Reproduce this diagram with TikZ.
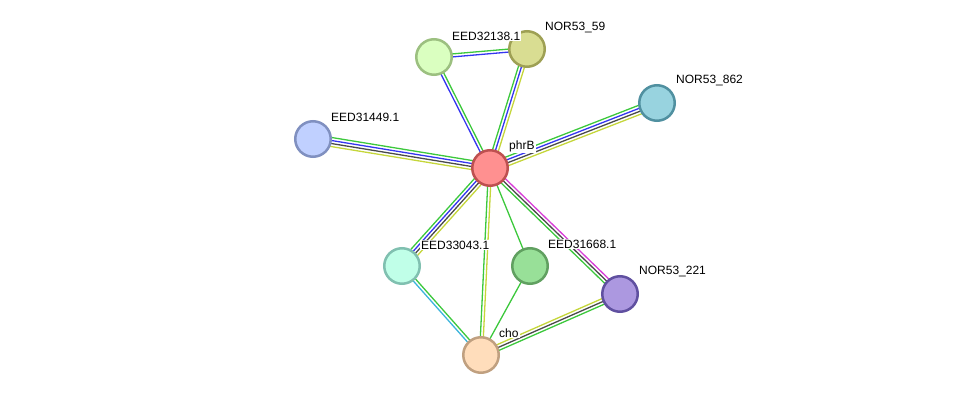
\documentclass[tikz,border=0pt]{standalone}
\usepackage{fontspec}
\setmainfont{Liberation Sans}
\usetikzlibrary{calc,backgrounds}

\definecolor{sgreen}{HTML}{3CC83C}
\definecolor{sblue}{HTML}{3535F0}
\definecolor{syellow}{HTML}{C5D63A}
\definecolor{sdark}{HTML}{4A4A4A}
\definecolor{smag}{HTML}{D83CD8}
\definecolor{scyan}{HTML}{3CB4DC}

% parallel evidence lines between two proteins
\newcommand\linkup[3]{%
  \foreach \c [count=\i] in {#3} {\xdef\nlines{\i}}
  \foreach \c [count=\i] in {#3} {
    \pgfmathsetmacro\off{((\nlines+1)/2-\i)*3}
    \draw[link,\c] ($(#1)!\off pt!90:(#2)$) -- ($(#2)!\off pt!-90:(#1)$);
  }
}

\begin{document}
\begin{tikzpicture}[x=1pt,y=-1pt,
			prot/.style={draw, circle, minimum size=35.5pt, line width=2.5pt, inner sep=0pt},
			lbl/.style={font=\fontsize{12}{14}\selectfont, anchor=west, inner sep=1pt, fill=white},
			link/.style={line width=1.3pt}]
			
			\useasboundingbox (0,0) rectangle (975,401);
			
			% Drawing the proteins
			\node[prot, fill={rgb,255:red,255;green,144;blue,144}, draw={rgb,255:red,190;green,80;blue,80}] (phrB) at (490,168) {};
			\node[prot, fill={rgb,255:red,218;green,255;blue,192}, draw={rgb,255:red,156;green,192;blue,128}] (eed32138) at (434,57) {};
			\node[prot, fill={rgb,255:red,217;green,221;blue,146}, draw={rgb,255:red,158;green,160;blue,84}] (nor59) at (527,49) {};
			\node[prot, fill={rgb,255:red,152;green,211;blue,223}, draw={rgb,255:red,80;green,144;blue,160}] (nor862) at (657,103) {};
			\node[prot, fill={rgb,255:red,192;green,208;blue,255}, draw={rgb,255:red,128;green,144;blue,192}] (eed31449) at (313,139) {};
			\node[prot, fill={rgb,255:red,192;green,255;blue,232}, draw={rgb,255:red,128;green,192;blue,176}] (eed33043) at (402,266) {};
			\node[prot, fill={rgb,255:red,152;green,224;blue,152}, draw={rgb,255:red,96;green,160;blue,96}] (eed31668) at (530,266) {};
			\node[prot, fill={rgb,255:red,172;green,152;blue,224}, draw={rgb,255:red,96;green,80;blue,160}] (nor221) at (620,294) {};
			\node[prot, fill={rgb,255:red,255;green,221;blue,187}, draw={rgb,255:red,192;green,160;blue,128}] (cho) at (481,355) {};
			
			% Labels
			\node[lbl] (phrB-l) at ($(phrB)+(18,-22)$) {phrB};
			\node[lbl] (eed32138-l) at ($(eed32138)+(17,-21)$) {EED32138.1};
			\node[lbl] (nor59-l) at ($(nor59)+(17,-21)$) {NOR53\_59};
			\node[lbl] (nor862-l) at ($(nor862)+(18,-22)$) {NOR53\_862};
			\node[lbl] (eed31449-l) at ($(eed31449)+(17,-22)$) {EED31449.1};
			\node[lbl] (eed33043-l) at ($(eed33043)+(18,-21)$) {EED33043.1};
			\node[lbl] (eed31668-l) at ($(eed31668)+(17,-22)$) {EED31668.1};
			\node[lbl] (nor221-l) at ($(nor221)+(18,-22)$) {NOR53\_221};
			\node[lbl] (cho-l) at ($(cho)+(17,-22)$) {cho};
			
			% Connecting the proteins
			\begin{scope}[on background layer]
				\linkup{phrB}{eed32138}{sblue,sgreen}
				\linkup{phrB}{nor59}{sgreen,sblue,syellow}
				\linkup{eed32138}{nor59}{sgreen,sblue}
				\linkup{eed31449}{phrB}{sgreen,sblue,sdark,syellow}
				\linkup{phrB}{nor862}{sgreen,sblue,sdark,syellow}
				\linkup{eed33043}{phrB}{sgreen,sblue,sdark,syellow}
				\linkup{cho}{phrB}{sgreen,syellow}
				\linkup{phrB}{eed31668}{sgreen}
				\linkup{nor221}{phrB}{sgreen,sdark,smag}
				\linkup{cho}{eed33043}{scyan,sgreen}
				\linkup{eed31668}{cho}{sgreen}
				\linkup{cho}{nor221}{syellow,sdark,sgreen}
			\end{scope}
		\end{tikzpicture}
\end{document}
